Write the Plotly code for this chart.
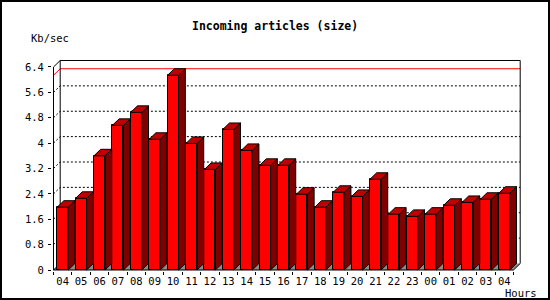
import plotly.graph_objects as go

# ---- data ----
hours = ["04", "05", "06", "07", "08", "09", "10", "11", "12", "13", "14", "15", "16",
         "17", "18", "19", "20", "21", "22", "23", "00", "01", "02", "03", "04"]
kb_sec = [1.98, 2.26, 3.60, 4.56, 4.97, 4.12, 6.14, 3.99, 3.17, 4.43, 3.77, 3.30, 3.30,
          2.39, 1.98, 2.45, 2.32, 2.86, 1.76, 1.69, 1.76, 2.04, 2.13, 2.23, 2.42]
y_ticks = [0, 0.8, 1.6, 2.4, 3.2, 4.0, 4.8, 5.6, 6.4]
y_tick_text = ["0", "0.8", "1.6", "2.4", "3.2", "4", "4.8", "5.6", "6.4"]
title_text = "Incoming articles (size)"
y_title = "Kb/sec"
x_title = "Hours"

# ---- geometry (3D look) ----
W, H = 550, 300
L, R, T, B = 52, 28, 59, 29
pw, ph = W - L - R, H - T - B
slot_px = 18.4           # pixels per category
unit_px = 31.72          # pixels per Kb/sec
front_left_px = 53.5
zero_px = 270
n = len(kb_sec)
x_lo = -0.5 - (front_left_px - L) / slot_px
x_hi = x_lo + pw / slot_px
y_lo = -(L * 0 + (T + ph) - zero_px) / unit_px
y_hi = y_lo + ph / unit_px
dx = 6.7 / slot_px       # depth offset in x units
dy = 6.5 / unit_px       # depth offset in y units
bw = 0.6                 # front face width
ytop = y_ticks[-1]
xl, xr = -0.5, n - 0.5

FONT = "DejaVu Sans Mono"


def path(points):
    return "M " + " L ".join(f"{px},{py}" for px, py in points)


shapes = []
# floor (gray)
shapes.append(dict(type="path", xref="x", yref="y", layer="below",
                   path=path([(xl, 0), (xr, 0), (xr + dx, dy), (xl + dx, dy)]) + " Z",
                   fillcolor="#8c8c8c", line=dict(width=0)))
# grid lines (dotted) on left wall + back wall
for v in y_ticks[1:-1]:
    shapes.append(dict(type="path", xref="x", yref="y", layer="below",
                       path=path([(xl, v), (xl + dx, v + dy), (xr + dx, v + dy)]),
                       line=dict(color="black", width=1, dash="2px,2px")))
# max line (red)
m = max(kb_sec)
shapes.append(dict(type="path", xref="x", yref="y", layer="below",
                   path=path([(xl, m), (xl + dx, m + dy), (xr + dx, m + dy)]),
                   line=dict(color="#ff0000", width=1)))
# frame
frame_lines = [
    [(xl, 0), (xl, ytop), (xl + dx, ytop + dy), (xr + dx, ytop + dy), (xr + dx, dy), (xr, 0), (xl, 0)],
    [(xl + dx, dy), (xl + dx, ytop + dy)],
    [(xl, 0), (xl + dx, dy)],
]
for pts in frame_lines:
    shapes.append(dict(type="path", xref="x", yref="y", layer="below",
                       path=path(pts), line=dict(color="black", width=1)))
# outer border of the image
shapes.append(dict(type="rect", xref="paper", yref="paper", layer="above",
                   x0=(1 - L) / pw, x1=(W - 1 - L) / pw,
                   y0=(T + ph - (H - 1)) / ph, y1=(T + ph - 1) / ph,
                   line=dict(color="black", width=2), fillcolor="rgba(0,0,0,0)"))

fig = go.Figure()

# front faces
fig.add_trace(go.Bar(x=list(range(n)), y=kb_sec, width=bw,
                     marker=dict(color="#ff0000", line=dict(color="black", width=1)),
                     hoverinfo="skip", showlegend=False))

# side faces
sx, sy = [], []
for i, v in enumerate(kb_sec):
    r = i + bw / 2
    sx += [r, r + dx, r + dx, r, r, None]
    sy += [0, dy, v + dy, v, 0, None]
fig.add_trace(go.Scatter(x=sx, y=sy, mode="lines", fill="toself",
                         fillcolor="#800000", line=dict(color="black", width=1),
                         hoverinfo="skip", showlegend=False))
# top faces
tx, ty = [], []
for i, v in enumerate(kb_sec):
    l, r = i - bw / 2, i + bw / 2
    tx += [l, r, r + dx, l + dx, l, None]
    ty += [v, v, v + dy, v + dy, v, None]
fig.add_trace(go.Scatter(x=tx, y=ty, mode="lines", fill="toself",
                         fillcolor="#c00000", line=dict(color="black", width=1),
                         hoverinfo="skip", showlegend=False))

fig.update_layout(
    width=W, height=H,
    margin=dict(l=L, r=R, t=T, b=B, pad=0, autoexpand=False),
    paper_bgcolor="white", plot_bgcolor="white",
    showlegend=False,
    bargap=0,
    shapes=shapes,
    font=dict(family=FONT, size=10, color="black"),
    xaxis=dict(range=[x_lo, x_hi], tickmode="array", tickvals=list(range(n)),
               ticktext=hours, ticks="", showgrid=False, zeroline=False,
               showline=False, tickfont=dict(family=FONT, size=10.5, color="black"),
               ticklabelstandoff=2,
               minor=dict(tickmode="array", tickvals=[i - 0.5 for i in range(n + 1)],
                          ticks="outside", ticklen=3, tickcolor="black", tickwidth=1,
                          showgrid=False)),
    yaxis=dict(range=[y_lo, y_hi], tickmode="array", tickvals=y_ticks,
               ticktext=y_tick_text, ticks="outside", ticklen=3, tickcolor="black",
               showgrid=False, zeroline=False, showline=False,
               tickfont=dict(family=FONT, size=10.5, color="black"),
               ticklabelstandoff=2),
    annotations=[
        dict(text=f"<b>{title_text}</b>", xref="paper", yref="paper",
             x=(274.5 - L) / pw, y=(T + ph - 26) / ph, xanchor="center", yanchor="middle",
             showarrow=False, font=dict(family=FONT, size=11.5, color="black")),
        dict(text=y_title, xref="paper", yref="paper",
             x=(29 - L) / pw, y=(T + ph - 37.5) / ph, xanchor="left", yanchor="middle",
             showarrow=False, font=dict(family=FONT, size=10.5, color="black")),
        dict(text=x_title, xref="paper", yref="paper",
             x=(503 - L) / pw, y=(T + ph - 292.5) / ph, xanchor="left", yanchor="middle",
             showarrow=False, font=dict(family=FONT, size=10.5, color="black")),
    ],
)

fig.write_html("out.html")
